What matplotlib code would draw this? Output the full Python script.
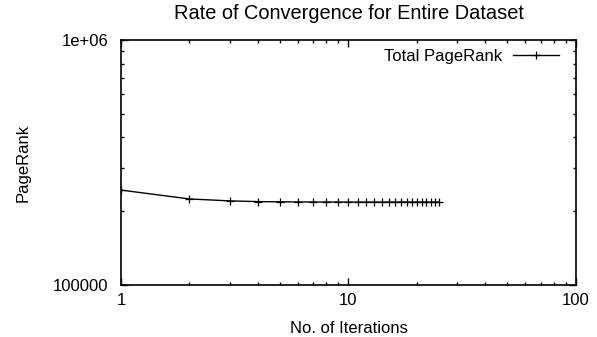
import numpy as np
import matplotlib.pyplot as plt
from matplotlib.ticker import LogLocator, FixedLocator, FixedFormatter, NullFormatter

plt.rcParams['font.family'] = ['Liberation Sans', 'DejaVu Sans']
plt.rcParams['font.size'] = 12

# total PageRank after each iteration
iterations = list(range(1, 26))
total_pr = [244000, 224500, 220500, 219000, 218500, 218300, 218200, 218100,
            218100, 218000, 218000, 218000, 218000, 218000, 218000, 218000,
            218000, 218000, 218000, 218000, 218000, 218000, 218000, 218000,
            218000]

fig = plt.figure(figsize=(5.97, 3.37), dpi=100)
ax = fig.add_axes([0.2027, 0.1543, 0.762, 0.727])

ax.plot(iterations, total_pr, color='black', lw=1.0, marker='+', ms=6,
        mew=0.9, label='Total PageRank')

ax.set_xscale('log')
ax.set_yscale('log')
ax.set_xlim(1, 100)
ax.set_ylim(1e5, 1e6)

ax.xaxis.set_major_locator(FixedLocator([1, 10, 100]))
ax.xaxis.set_major_formatter(FixedFormatter(['1', '10', '100']))
ax.xaxis.set_minor_locator(LogLocator(base=10, subs=np.arange(2, 10)))
ax.xaxis.set_minor_formatter(NullFormatter())
ax.yaxis.set_major_locator(FixedLocator([1e5, 1e6]))
ax.yaxis.set_major_formatter(FixedFormatter(['100000', '1e+06']))
ax.yaxis.set_minor_locator(LogLocator(base=10, subs=np.arange(2, 10)))
ax.yaxis.set_minor_formatter(NullFormatter())

ax.tick_params(which='both', direction='in', top=True, right=True, width=1.0)
ax.tick_params(which='major', length=5)
ax.tick_params(which='minor', length=2.5)
ax.tick_params(axis='x', which='major', pad=6)
ax.tick_params(axis='y', which='major', pad=9)
for s in ax.spines.values():
    s.set_linewidth(1.2)

ax.set_title('Rate of Convergence for Entire Dataset', pad=15)
ax.set_xlabel('No. of Iterations', labelpad=9)
ax.set_ylabel('PageRank', labelpad=16)

ax.legend(loc='upper right', frameon=False, markerfirst=False,
          handlelength=2.8, handletextpad=0.65, borderpad=0.2,
          borderaxespad=0, bbox_to_anchor=(0.971, 0.978))

fig.savefig('out.png', dpi=100)
